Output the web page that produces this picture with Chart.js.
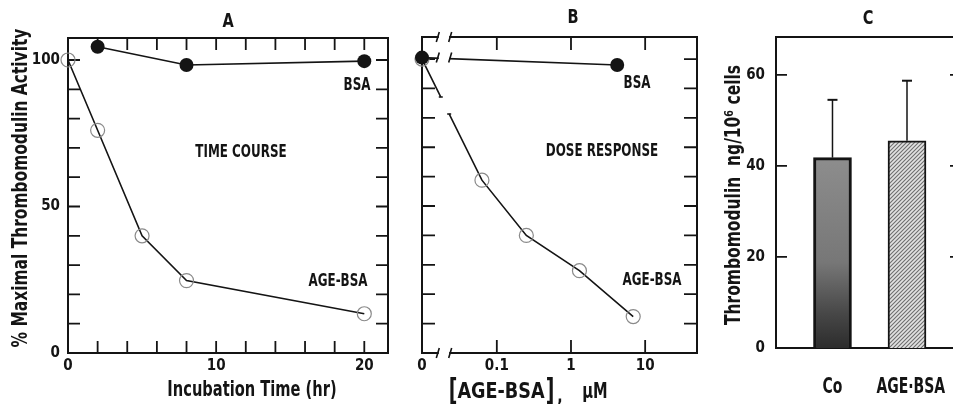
<!DOCTYPE html>
<html>
<head>
<meta charset="utf-8">
<script src="https://cdn.jsdelivr.net/npm/chart.js@4.4.1/dist/chart.umd.min.js"></script>
<style>
  body { margin: 0; background: #fff; width: 953px; height: 404px; overflow: hidden; position: relative; }
  canvas { position: absolute; top: 0; }
</style>
</head>
<body>
<canvas id="cA" width="400" height="404" style="left:0"></canvas>
<canvas id="cB" width="305" height="404" style="left:400px"></canvas>
<canvas id="cC" width="260" height="404" style="left:705px"></canvas>
<script>
// panel A - time course
const bsaTimeX = [2, 8, 20];
const bsaTimeY = [104.5, 98.3, 99.6];
const ageTimeX = [0, 2, 5, 8, 20];
const ageTimeY = [100, 76, 40, 24.7, 13.4];

// panel B - dose response (uM), 0 sits left of the axis break
const bsaDoseX = [0, 4.2];
const bsaDoseY = [100.5, 98];
const ageDoseX = [0, 0.063, 0.25, 1.3, 6.9];
const ageDoseY = [100, 58.8, 40, 28, 12.4];
const doseTicks = [0, 0.1, 1, 10];
const doseZero = 0.0098;

// panel C - thrombomodulin antigen
const groups = ['Co', 'AGE·BSA'];
const tmMean = [41.8, 45.5];
const tmSD = [12.7, 13.2];

const ink = '#141414';
const family = "'DejaVu Sans Condensed', 'Liberation Sans Narrow', sans-serif";
Chart.defaults.font.family = family;
Chart.defaults.font.weight = 'bold';
Chart.defaults.color = ink;
Chart.defaults.animation = false;
Chart.defaults.plugins.legend.display = false;
Chart.defaults.plugins.tooltip.enabled = false;

// box round the plot with inward tick marks
const framePlugin = {
  id: 'frame',
  beforeDatasetsDraw(chart, args, o) {
    const { ctx, chartArea: a, scales: { x, y } } = chart;
    ctx.save();
    ctx.strokeStyle = ink;
    ctx.lineWidth = 2;
    ctx.strokeRect(a.left, a.top, a.right - a.left, a.bottom - a.top);
    ctx.lineWidth = 1.8;
    ctx.beginPath();
    if (o.xMark) {
      x.ticks.forEach(t => {
        if (!o.xMark(t.value)) return;
        const px = x.getPixelForValue(t.value);
        ctx.moveTo(px, a.bottom); ctx.lineTo(px, a.bottom - o.len);
        ctx.moveTo(px, a.top); ctx.lineTo(px, a.top + o.len);
      });
    }
    if (o.yMark) {
      y.ticks.forEach(t => {
        if (!o.yMark(t.value)) return;
        const py = y.getPixelForValue(t.value);
        ctx.moveTo(a.left, py); ctx.lineTo(a.left + o.len, py);
        ctx.moveTo(a.right, py); ctx.lineTo(a.right - (o.rightLen || o.len), py);
      });
    }
    ctx.stroke();
    ctx.restore();
  }
};

// free text (titles, panel letters, curve names), squeezed to look condensed
const notesPlugin = {
  id: 'notes',
  afterDraw(chart, args, o) {
    const ctx = chart.ctx;
    (o.items || []).forEach(n => {
      const px = n.xv !== undefined ? chart.scales.x.getPixelForValue(n.xv) : n.x;
      ctx.save();
      ctx.fillStyle = ink;
      ctx.textAlign = 'center';
      ctx.textBaseline = 'middle';
      ctx.translate(px, n.y);
      if (n.rot) ctx.rotate(n.rot * Math.PI / 180);
      ctx.scale(n.sx || 0.78, 1);
      ctx.font = 'bold ' + n.size + 'px ' + family;
      ctx.fillText(n.text, 0, 0);
      ctx.restore();
    });
  }
};

// axis break on the log axis of panel B
const breakPlugin = {
  id: 'axisBreak',
  afterDatasetsDraw(chart, args, o) {
    if (!o.from) return;
    const { ctx, chartArea: a, scales: { x } } = chart;
    const x1 = x.getPixelForValue(o.from), x2 = x.getPixelForValue(o.to);
    const slash = (px, py, h) => {
      ctx.moveTo(px - 1.5, py + h); ctx.lineTo(px + 1.5, py - h);
    };
    ctx.save();
    ctx.strokeStyle = '#fff';
    ctx.lineWidth = 5;
    ctx.beginPath();
    ctx.moveTo(x1 + 1, a.top); ctx.lineTo(x2 - 1, a.top);
    ctx.moveTo(x1 + 1, a.bottom); ctx.lineTo(x2 - 1, a.bottom);
    const bsa = chart.getDatasetMeta(0).data;
    ctx.moveTo(x1 + 1, bsa[0].y); ctx.lineTo(x2 - 1, bsa[0].y);
    ctx.stroke();
    // cut the falling AGE-BSA line as well
    const age = chart.getDatasetMeta(1).data;
    const at = px => age[0].y + (age[1].y - age[0].y) * (px - age[0].x) / (age[1].x - age[0].x);
    ctx.beginPath();
    ctx.moveTo(x1 + 3, at(x1 + 3)); ctx.lineTo(x2 - 1, at(x2 - 1));
    ctx.stroke();
    ctx.strokeStyle = ink;
    ctx.lineWidth = 1.6;
    ctx.beginPath();
    [x1, x2].forEach(px => {
      slash(px, a.top, 5);
      slash(px, a.bottom, 5);
      slash(px, bsa[0].y, 5);
    });
    ctx.moveTo(x1 + 1, at(x1 + 3)); ctx.lineTo(x1 + 5, at(x1 + 3));
    ctx.moveTo(x2 - 3, at(x2 - 1)); ctx.lineTo(x2 + 1, at(x2 - 1));
    ctx.stroke();
    ctx.restore();
  }
};

// upper error bars for panel C
const errorPlugin = {
  id: 'errors',
  afterDatasetsDraw(chart) {
    const { ctx, scales: { y } } = chart;
    const bars = chart.getDatasetMeta(0).data;
    ctx.save();
    ctx.strokeStyle = ink;
    bars.forEach((b, i) => {
      const top = y.getPixelForValue(tmMean[i] + tmSD[i]);
      ctx.lineWidth = 1.5;
      ctx.beginPath();
      ctx.moveTo(b.x, b.y); ctx.lineTo(b.x, top);
      ctx.stroke();
      ctx.lineWidth = 2;
      ctx.beginPath();
      ctx.moveTo(b.x - 5, top); ctx.lineTo(b.x + 5, top);
      ctx.stroke();
    });
    ctx.restore();
  }
};

const filledDot = {
  borderColor: ink, borderWidth: 1.6, pointRadius: 7, pointBackgroundColor: ink,
  pointBorderColor: ink, pointBorderWidth: 0, clip: false, tension: 0
};
const openDot = {
  borderColor: ink, borderWidth: 1.6, pointRadius: 7, pointBackgroundColor: 'rgba(0,0,0,0)',
  pointBorderColor: '#8a8a8a', pointBorderWidth: 1.2, clip: false, tension: 0
};
const pts = (xs, ys) => xs.map((x, i) => ({ x: x, y: ys[i] }));
const hidden = { display: false, drawTicks: false };
// fixed axis box, no extra room for overhanging labels
const fixHeight = h => s => { s.height = h; s.paddingLeft = 0; s.paddingRight = 0; };

new Chart(document.getElementById('cA'), {
  type: 'line',
  data: {
    datasets: [
      Object.assign({ label: 'BSA', data: pts(bsaTimeX, bsaTimeY) }, filledDot),
      Object.assign({ label: 'AGE-BSA', data: pts(ageTimeX, ageTimeY) }, openDot)
    ]
  },
  options: {
    responsive: false,
    layout: { autoPadding: false, padding: { top: 38, right: 12, left: 0, bottom: 0 } },
    scales: {
      x: {
        type: 'linear', min: 0, max: 21.6,
        grid: hidden, border: { display: false },
        ticks: { stepSize: 2, includeBounds: false, autoSkip: false, maxRotation: 0, padding: 4, font: { size: 15 },
                 callback: v => v % 10 === 0 ? v : '' },
        afterFit: fixHeight(51)
      },
      y: {
        min: 0, max: 107.5,
        grid: hidden, border: { display: false },
        ticks: { stepSize: 10, includeBounds: false, autoSkip: false, padding: 8, font: { size: 15 },
                 callback: v => v % 50 === 0 ? v : '' },
        afterFit: s => { s.width = 68; }
      }
    },
    plugins: {
      frame: { len: 12, xMark: v => v > 0 && v % 2 === 0, yMark: v => v > 0 && v % 10 === 0 },
      notes: { items: [
        { text: 'A', x: 228, y: 22, size: 19, sx: 0.85 },
        { text: 'BSA', x: 357, y: 86, size: 17 },
        { text: 'TIME COURSE', x: 241, y: 153, size: 17 },
        { text: 'AGE-BSA', x: 338, y: 282, size: 17 },
        { text: 'Incubation Time (hr)', x: 252, y: 390, size: 22, sx: 0.74 },
        { text: '% Maximal Thrombomodulin Activity', x: 21, y: 188, size: 22, sx: 0.78, rot: -90 }
      ] }
    }
  },
  plugins: [framePlugin, notesPlugin]
});

new Chart(document.getElementById('cB'), {
  type: 'line',
  data: {
    datasets: [
      Object.assign({ label: 'BSA', data: pts(bsaDoseX.map(v => v || doseZero), bsaDoseY) }, filledDot),
      Object.assign({ label: 'AGE-BSA', data: pts(ageDoseX.map(v => v || doseZero), ageDoseY) }, openDot)
    ]
  },
  options: {
    responsive: false,
    layout: { autoPadding: false, padding: { top: 37, right: 8, left: 0, bottom: 0 } },
    scales: {
      x: {
        type: 'logarithmic', min: doseZero, max: 50,
        grid: hidden, border: { display: false },
        afterBuildTicks: s => { s.ticks = doseTicks.map(v => ({ value: v || doseZero })); },
        ticks: { autoSkip: false, maxRotation: 0, padding: 4, font: { size: 15 },
                 callback: (v, i) => String(doseTicks[i]) },
        afterFit: fixHeight(51)
      },
      y: {
        min: 0, max: 107.5,
        grid: hidden, border: { display: false },
        ticks: { display: false, stepSize: 10, includeBounds: false },
        afterFit: s => { s.width = 22; }
      }
    },
    plugins: {
      frame: { len: 13, xMark: v => v >= 0.1, yMark: v => v > 0 && v % 10 === 0 },
      axisBreak: { from: 0.016, to: 0.0235 },
      notes: { items: [
        { text: 'B', x: 173, y: 18, size: 19, sx: 0.85 },
        { text: 'BSA', x: 237, y: 84, size: 17 },
        { text: 'DOSE RESPONSE', x: 202, y: 152, size: 17 },
        { text: 'AGE-BSA', x: 252, y: 281, size: 17 },
        { text: '[', x: 53, y: 392, size: 30, sx: 0.7 },
        { text: 'AGE-BSA', x: 101, y: 392, size: 22, sx: 0.89 },
        { text: ']', x: 150, y: 392, size: 30, sx: 0.7 },
        { text: ',', x: 160, y: 397, size: 20 },
        { text: 'μM', x: 195, y: 392, size: 22, sx: 0.74 }
      ] }
    }
  },
  plugins: [framePlugin, breakPlugin, notesPlugin]
});

const hatchTile = document.createElement('canvas');
hatchTile.width = hatchTile.height = 4;
(function () {
  const g = hatchTile.getContext('2d');
  g.fillStyle = '#e2e2e2';
  g.fillRect(0, 0, 4, 4);
  g.strokeStyle = '#6e6e6e';
  g.lineWidth = 1.1;
  g.beginPath();
  g.moveTo(0, 4); g.lineTo(4, 0);
  g.moveTo(-1, 1); g.lineTo(1, -1);
  g.moveTo(3, 5); g.lineTo(5, 3);
  g.stroke();
})();

new Chart(document.getElementById('cC'), {
  type: 'bar',
  data: {
    datasets: [{
      label: 'Thrombomodulin',
      data: pts([1, 2], tmMean),
      barThickness: 38,
      borderColor: ink,
      borderWidth: [3, 2],
      borderSkipped: 'start',
      backgroundColor: c => {
        const ch = c.chart;
        if (c.dataIndex === 1) return ch.ctx.createPattern(hatchTile, 'repeat');
        const a = ch.chartArea;
        if (!a) return '#777';
        const g = ch.ctx.createLinearGradient(0, a.bottom, 0, ch.scales.y.getPixelForValue(tmMean[0]));
        g.addColorStop(0, '#2c2c2c');
        g.addColorStop(0.18, '#474747');
        g.addColorStop(0.45, '#777');
        g.addColorStop(1, '#8d8d8d');
        return g;
      }
    }]
  },
  options: {
    responsive: false,
    layout: { autoPadding: false, padding: { top: 37, right: 8, left: 0, bottom: 0 } },
    scales: {
      x: {
        type: 'linear', min: 0.242, max: 2.671, offset: false,
        grid: hidden, border: { display: false },
        afterBuildTicks: s => { s.ticks = groups.map((g, i) => ({ value: i + 1 })); },
        ticks: { display: false },
        afterFit: fixHeight(56)
      },
      y: {
        min: 0, max: 68.3,
        grid: hidden, border: { display: false },
        ticks: { stepSize: 20, includeBounds: false, autoSkip: false, padding: 11, font: { size: 15 },
                 callback: v => v % 20 === 0 ? v : '' },
        afterFit: s => { s.width = 71; }
      }
    },
    plugins: {
      frame: { len: 11, rightLen: 7, yMark: v => v > 0 && v % 20 === 0 },
      notes: { items: [
        { text: 'C', x: 163, y: 19, size: 19, sx: 0.85 },
        { text: 'Thrombomodulin  ng/10⁶ cells', x: 30, y: 195, size: 21, sx: 0.82, rot: -90 }
      ].concat(groups.map((g, i) => ({ text: g, xv: i + 1 + 0.05 * i, y: 388, size: 21, sx: 0.74 }))) }
    }
  },
  plugins: [framePlugin, errorPlugin, notesPlugin]
});
</script>
</body>
</html>
